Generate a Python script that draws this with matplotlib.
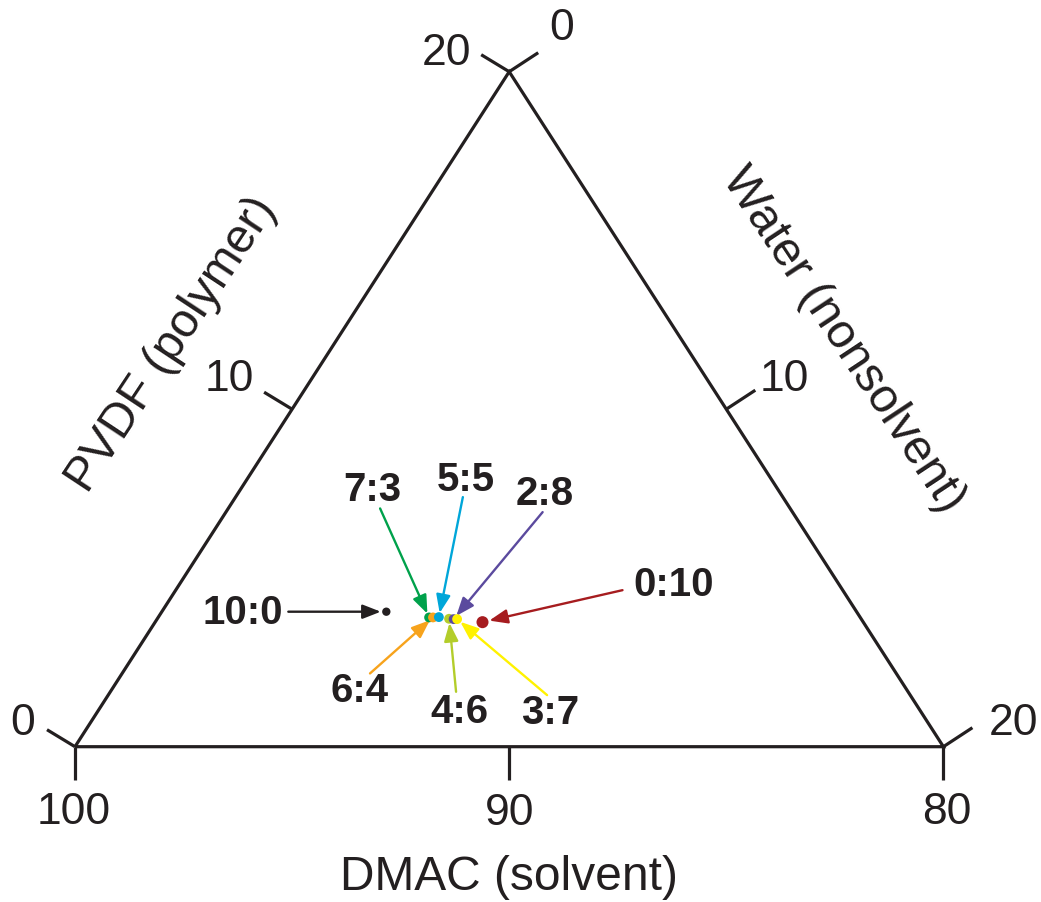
import matplotlib
matplotlib.use('Agg')
import matplotlib.pyplot as plt
import numpy as np

plt.rcParams['font.family'] = ['Liberation Sans', 'DejaVu Sans']

# ---------------- data ----------------
labels = ['10:0', '7:3', '6:4', '5:5', '4:6', '2:8', '3:7', '0:10']
pvdf = [4.00, 3.83, 3.83, 3.84, 3.79, 3.78, 3.78, 3.69]      # wt %
water = [5.17, 6.24, 6.33, 6.46, 6.72, 6.83, 6.91, 7.54]     # wt %
dmac = [100 - p - w for p, w in zip(pvdf, water)]           # wt %
colors = ['#231f20', '#00a14b', '#f7a31c', '#00a6d9', '#b3cd2a', '#5b4a9e', '#fff200', '#a61c1f']

pvdf_ticks = [0, 10, 20]
water_ticks = [0, 10, 20]
dmac_ticks = [100, 90, 80]

axis_titles = ['DMAC (solvent)', 'PVDF (polymer)', 'Water (nonsolvent)']

# ---------------- layout ----------------
W_PX, H_PX = 1041, 902
x0_px, xs = 75.0, 43.42      # pixel of X=0, pixels per unit
y0_px, ys = 746.7, 33.75     # pixel row of Y=0, pixels per unit


def tern(p, w):
    """ternary (pvdf, water) -> cartesian data coords"""
    return w + p / 2.0, p


fig = plt.figure(figsize=(W_PX / 100, H_PX / 100), dpi=100)
ax = fig.add_axes([0, 0, 1, 1])
ax.set_xlim(-x0_px / xs, (W_PX - x0_px) / xs)
ax.set_ylim((y0_px - H_PX) / ys, y0_px / ys)
ax.axis('off')

lw = 2.3
# triangle
corners = [tern(0, 0), tern(20, 0), tern(0, 20), tern(0, 0)]
ax.plot([c[0] for c in corners], [c[1] for c in corners], color='#231f20', lw=lw,
        solid_joinstyle='miter', solid_capstyle='butt', zorder=2)

tick_font = dict(fontsize=32, color='#231f20')

# PVDF ticks on the left edge
left_off = [(-52, 11.7), (-63, 18), (-63, 6.7)]
for t, off in zip(pvdf_ticks, left_off):
    x, y = tern(t, 0)
    ax.plot([x, x - 28 / xs], [y, y + 17 / ys], color='#231f20', lw=lw, solid_capstyle='butt')
    ax.annotate(str(t), (x, y), xytext=off, textcoords='offset pixels',
                ha='center', va='baseline', **tick_font)

# Water ticks on the right edge
right_off = [(52, 31.7), (58, 18), (70, 11.7)]
for t, off in zip(water_ticks, right_off):
    x, y = tern(20 - t, t)
    ax.plot([x, x + 29 / xs], [y, y + 19 / ys], color='#231f20', lw=lw, solid_capstyle='butt')
    ax.annotate(str(t), (x, y), xytext=off, textcoords='offset pixels',
                ha='center', va='baseline', **tick_font)

# DMAC ticks on the bottom edge
bottom_off = [(-1, -77), (0, -78), (3, -77)]
for t, off in zip(dmac_ticks, bottom_off):
    x, y = tern(0, 100 - t)
    ax.plot([x, x], [y, y - 33 / ys], color='#231f20', lw=lw, solid_capstyle='butt')
    ax.annotate(str(t), (x, y), xytext=off, textcoords='offset pixels',
                ha='center', va='baseline', **tick_font)

# axis titles (pixel positions)
def px2d(px, py):
    return (px - x0_px) / xs, (y0_px - py) / ys

title_pos = [(509, 877, 0), (172, 345, 56.5), (843, 340, -56.5)]
for txt, (px, py, rot) in zip(axis_titles, title_pos):
    x, y = px2d(px, py)
    ax.text(x, y, txt, fontsize=34.5, color='#231f20', ha='center', va='center',
            rotation=rot, rotation_mode='anchor')

# points
sizes = {'10:0': 36, '0:10': 75}
for lab, p, w, c in zip(labels, pvdf, water, colors):
    x, y = tern(p, w)
    ax.scatter([x], [y], s=sizes.get(lab, 50), color=c, edgecolors='none', zorder=5)

# arrows and labels: tail offset and text offset (pixels, relative to the point)
tail_off = {'10:0': (-98, 0), '7:3': (-49, 109), '6:4': (-63, -56), '5:5': (24, 120),
            '4:6': (7, -73), '2:8': (89, 107), '3:7': (90, -76), '0:10': (140, 32)}
text_off = {'10:0': (-143.5, -12), '7:3': (-57, 116), '6:4': (-73, -85), '5:5': (27, 126),
            '4:6': (10, -104), '2:8': (91, 114), '3:7': (93, -105), '0:10': (191, 26)}
shrink = {'10:0': 4.0, '0:10': 5.0}
for lab, p, w, c in zip(labels, pvdf, water, colors):
    x, y = tern(p, w)
    ax.annotate('', xy=(x, y), xytext=tail_off[lab], textcoords='offset pixels',
                arrowprops=dict(arrowstyle='-|>,head_length=11,head_width=4.3', mutation_scale=1,
                                color=c, lw=1.7, shrinkA=0, shrinkB=shrink.get(lab, 3.0)),
                zorder=4)
    ax.annotate(lab, (x, y), xytext=text_off[lab], textcoords='offset pixels',
                ha='center', va='baseline', fontsize=29, fontweight='bold', color='#231f20')

fig.savefig('out.png', dpi=100, facecolor='white')
